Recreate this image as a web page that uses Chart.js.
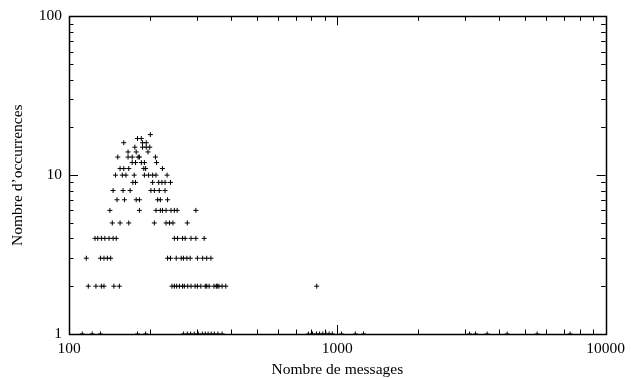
<!DOCTYPE html>
<html>
<head>
<meta charset="utf-8">
<script src="https://cdn.jsdelivr.net/npm/chart.js@4"></script>
<style>
  html, body { margin: 0; padding: 0; background: #fff; }
  canvas { display: block; }
</style>
</head>
<body>
<canvas id="chart" width="631" height="379"></canvas>
<script>
// nombre d'occurrences (axe y) et nombres de messages correspondants (axe x)
const occurrences = [18, 17, 16, 15, 14, 13, 12, 11, 10, 9, 8, 7, 6, 5, 4, 3, 2, 1];
const messages = [
  [201],
  [180, 186],
  [160, 188, 194],
  [176, 188, 194, 200],
  [166, 178, 197],
  [152, 166, 172, 181, 183, 210],
  [172, 177, 186, 191, 212],
  [155, 160, 167, 190, 193, 223],
  [149, 158, 163, 175, 191, 198, 205, 211, 232],
  [173, 177, 205, 216, 222, 228, 239],
  [146, 159, 169, 202, 208, 217, 228],
  [151, 161, 178, 183, 214, 219, 233],
  [142, 183, 211, 219, 223, 230, 240, 247, 253, 297],
  [145, 155, 167, 208, 230, 237, 244, 276],
  [125, 128, 132, 136, 141, 146, 150, 247, 254, 265, 271, 285, 297, 319],
  [116, 131, 135, 139, 143, 233, 239, 251, 262, 267, 275, 283, 301, 315, 326, 338],
  [118, 126, 132, 135, 147, 154, 242, 247, 252, 258, 265, 269, 277, 285, 295, 301,
   310, 322, 326, 333, 347, 354, 357, 362, 372, 384, 838],
  [112, 122, 131, 180, 193, 267, 276, 284, 293, 303, 314, 322, 330, 339, 348, 359, 372,
   780, 808, 836, 859, 883, 907, 932, 958, 1036, 1167, 1252,
   3112, 3276, 3618, 4296, 5556, 7374]
];
const xTicks = [100, 1000, 10000];
const yTicks = [1, 10, 100];

const points = [];
occurrences.forEach((n, i) => {
  messages[i].forEach(m => points.push({ x: m, y: n }));
});

const font = { family: "'Liberation Serif', 'DejaVu Serif', serif", size: 15.5 };

// cadre et graduations tournées vers l'intérieur, sur les quatre côtés
const frame = {
  id: 'frame',
  afterDraw(chart) {
    const c = chart.ctx;
    const a = chart.chartArea;
    const sx = chart.scales.x, sy = chart.scales.y;
    c.save();
    c.strokeStyle = '#000';
    c.lineWidth = 1;
    c.beginPath();
    const steps = (lo, hi) => {
      const out = [];
      for (let d = lo; d < hi; d *= 10) {
        for (let k = 1; k <= 9; k++) out.push({ v: d * k, major: k === 1 });
      }
      out.push({ v: hi, major: true });
      return out;
    };
    steps(100, 10000).forEach(t => {
      const px = Math.round(sx.getPixelForValue(t.v)) + 0.5;
      const len = t.major ? 9 : 4.5;
      c.moveTo(px, a.bottom); c.lineTo(px, a.bottom - len);
      c.moveTo(px, a.top); c.lineTo(px, a.top + len);
    });
    steps(1, 100).forEach(t => {
      const py = Math.round(sy.getPixelForValue(t.v)) + 0.5;
      const len = t.major ? 9 : 4.5;
      c.moveTo(a.left, py); c.lineTo(a.left + len, py);
      c.moveTo(a.right, py); c.lineTo(a.right - len, py);
    });
    c.stroke();
    c.lineWidth = 1.5;
    c.strokeRect(Math.round(a.left) + 0.5, Math.round(a.top) + 0.5,
      Math.round(a.right - a.left), Math.round(a.bottom - a.top));
    c.restore();
  }
};

new Chart(document.getElementById('chart').getContext('2d'), {
  type: 'scatter',
  data: {
    datasets: [{
      data: points,
      pointStyle: 'cross',
      pointRadius: 2.5,
      borderColor: '#000',
      borderWidth: 1
    }]
  },
  options: {
    responsive: false,
    animation: false,
    layout: { padding: { top: 12, right: 22, left: 0, bottom: 0 } },
    plugins: { legend: { display: false }, tooltip: { enabled: false } },
    scales: {
      x: {
        type: 'logarithmic',
        min: 100,
        max: 10000,
        grid: { display: false, drawTicks: false },
        border: { display: false },
        ticks: {
          autoSkip: false,
          maxRotation: 0,
          padding: 6,
          color: '#000',
          font: font,
          callback: v => xTicks.includes(v) ? String(v) : ''
        },
        title: { display: true, text: 'Nombre de messages', color: '#000', font: font, padding: { top: 2, bottom: 0 } },
        afterFit: s => { s.height = 45; }
      },
      y: {
        type: 'logarithmic',
        min: 1,
        max: 100,
        grid: { display: false, drawTicks: false },
        border: { display: false },
        ticks: {
          autoSkip: false,
          padding: 7,
          color: '#000',
          font: font,
          callback: v => yTicks.includes(v) ? String(v) : ''
        },
        title: { display: true, text: 'Nombre d’occurrences', color: '#000', font: font, padding: { top: 9, bottom: 0 } },
        afterFit: s => { s.width = 69; }
      }
    }
  },
  plugins: [frame]
});
</script>
</body>
</html>
